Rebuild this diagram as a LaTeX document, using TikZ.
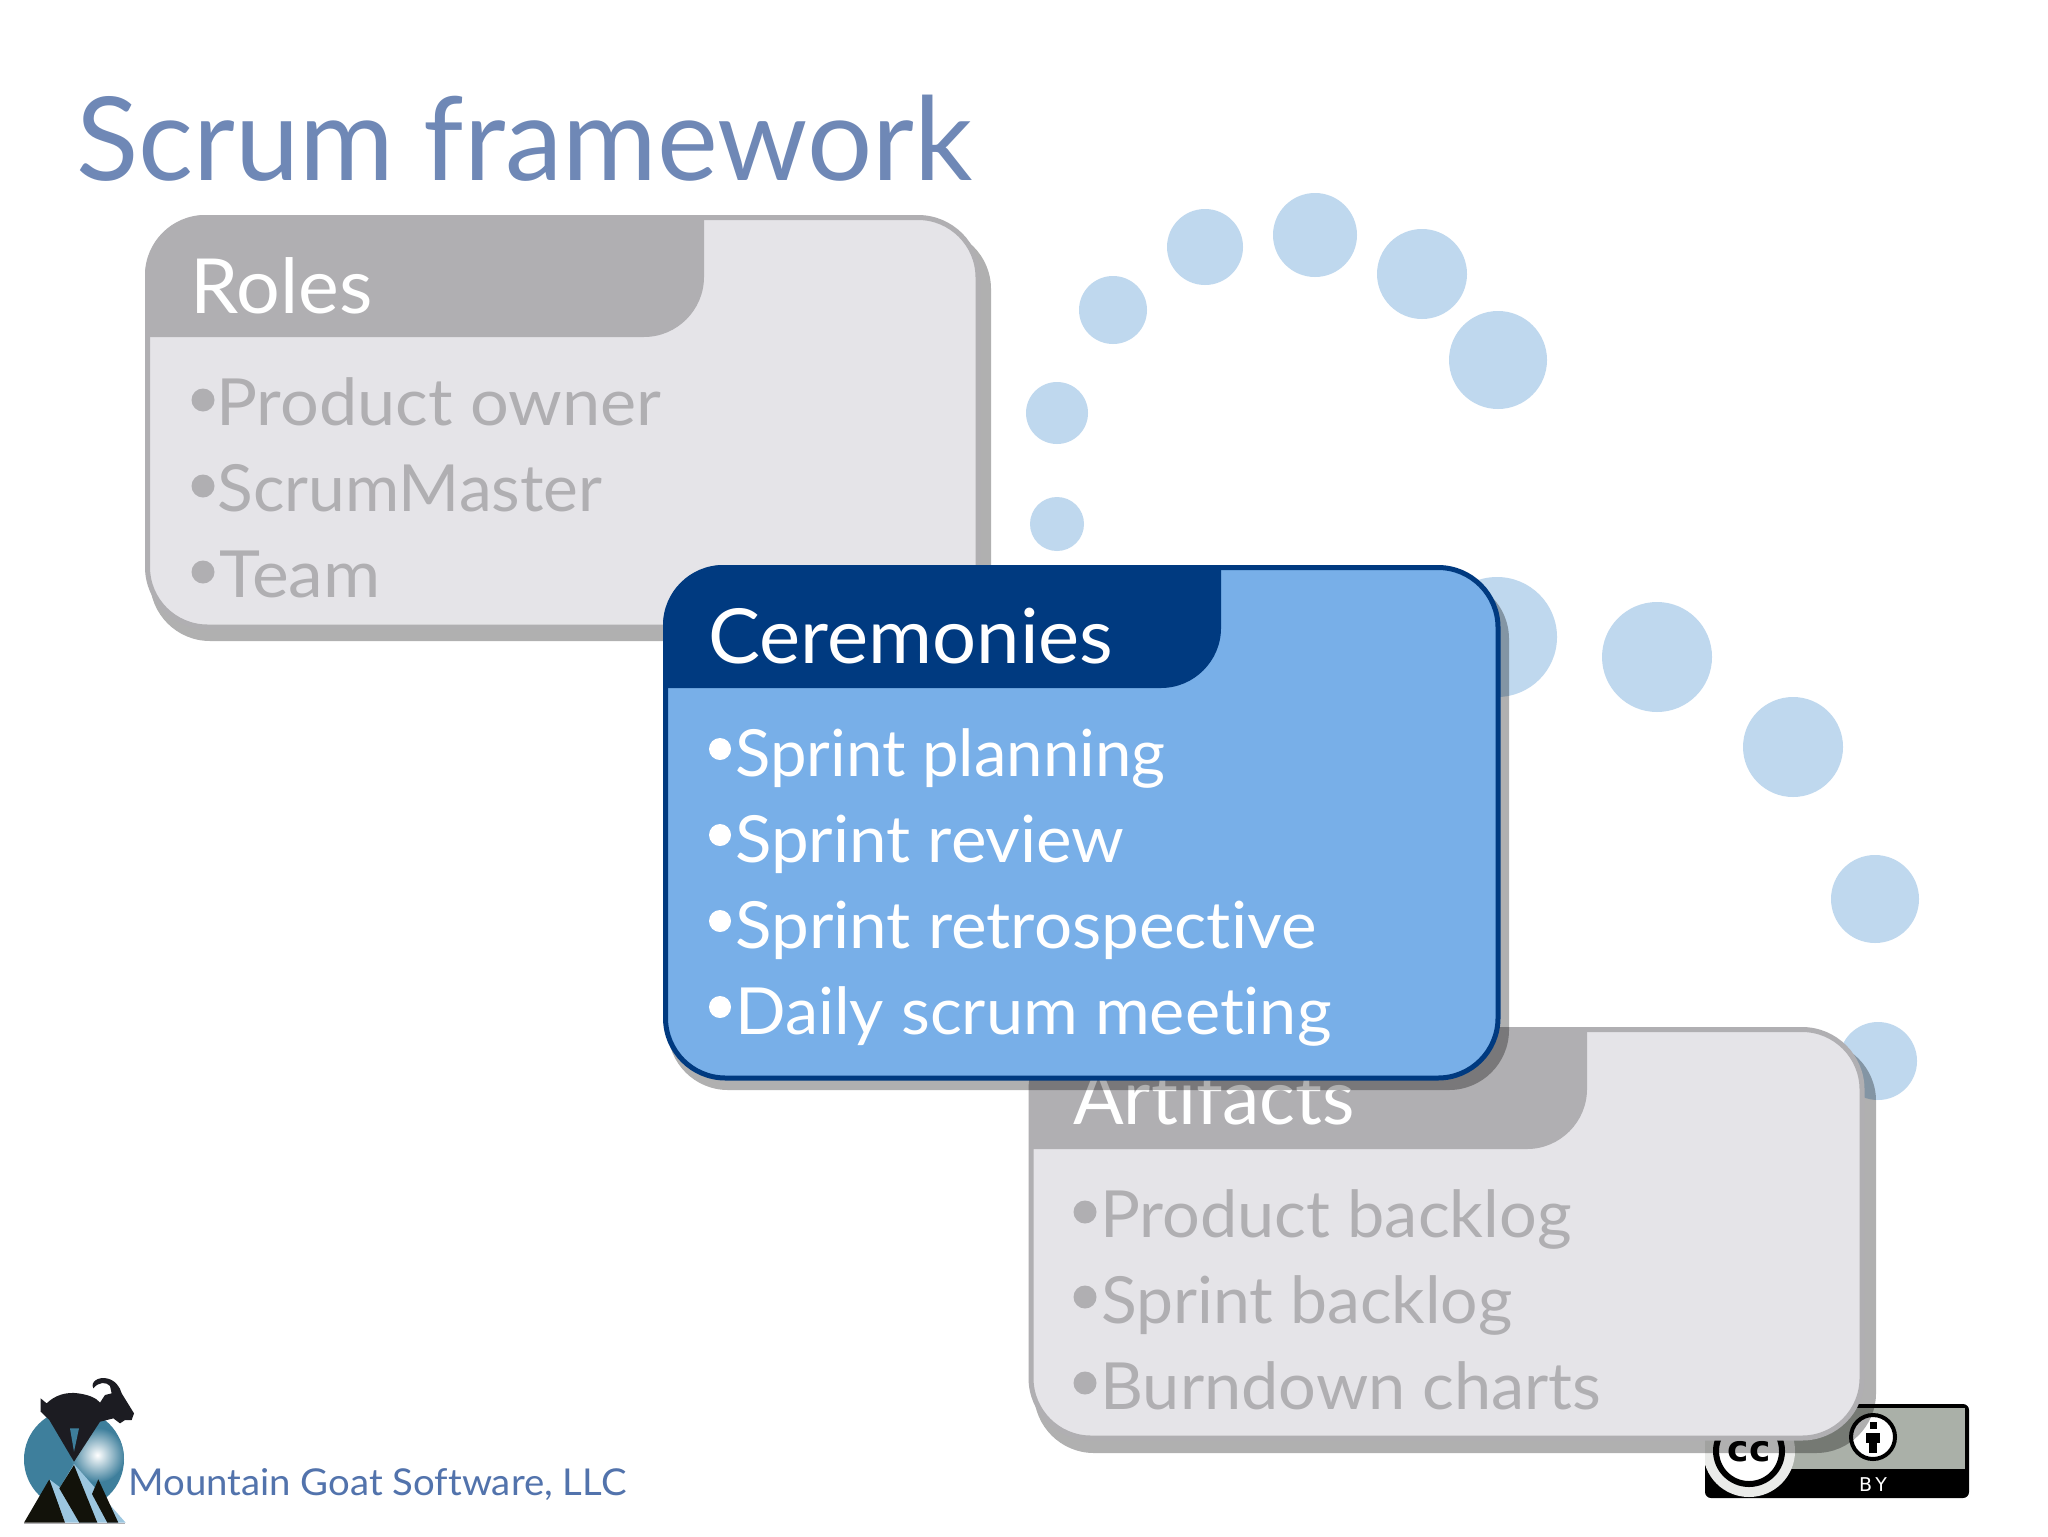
\documentclass[tikz,border=0pt]{standalone}
\usepackage{fontspec}
\usepackage{graphicx}
\setmainfont[Ligatures={NoCommon,NoRare},Contextuals=NoAlternate]{Lato}
\newfontfamily\badgefont{DejaVu Sans}
\definecolor{titleblue}{HTML}{6F88B6}
\definecolor{logoblue}{HTML}{5273AC}
\definecolor{dot}{HTML}{BFD8EE}
\definecolor{cardgrey}{HTML}{B0AFB2}
\definecolor{cardface}{HTML}{E5E4E8}
\definecolor{navy}{HTML}{003A80}
\definecolor{sky}{HTML}{78AFE8}
\definecolor{teal}{HTML}{3E7F9C}
\definecolor{goat}{HTML}{1C1C22}
\definecolor{rock}{HTML}{12120A}
\definecolor{ice}{HTML}{9CC6DF}
\definecolor{badgegrey}{HTML}{AAB0A8}
\newdimen\pxu \pxu=0.5pt
% text fitted to a measured width: x, baseline, width, size, colour, name, text
\newcommand\tx[7]{\node[anchor=base west,inner sep=0pt,text=#5] (#6) at (#1,#2) {\resizebox{#3\pxu}{\height}{\fontsize{#4pt}{#4pt}\selectfont #7}};}
% rounded card: left, top, right, bottom, style
\newcommand\card[5]{\draw[rounded corners=30pt,#5] (#1,#2) rectangle (#3,#4);}
% header tab: left, top, right, bottom, colour
\newcommand\tab[5]{\fill[#5] ({#1},{#4}) -- ({#1},{#2+60}) .. controls ({#1},{#2+27}) and ({#1+27},{#2}) .. ({#1+60},{#2}) -- ({#3},{#2}) -- ({#3},{#4-60}) .. controls ({#3},{#4-27}) and ({#3-27},{#4}) .. ({#3-60},{#4}) -- cycle;}
\tikzset{
  dotcircle/.style={fill=dot},
  shadowcard/.style={fill=black,fill opacity=.31,draw=none},
  greyface/.style={fill=cardface,draw=cardgrey,line width=2.5pt},
  blueface/.style={fill=sky,draw=navy,line width=2.5pt}
}
\begin{document}
\begin{tikzpicture}[x=0.5pt,y=-0.5pt]
\useasboundingbox (0,0) rectangle (2048,1536);
\fill[white] (0,0) rectangle (2048,1536);
% dots
\foreach \cx/\cy/\r in {1057/524/27,1057/413/31,1113/310/34,1205/247/38,1315/235/42,1422/274/45,1498/360/49,1497/637/60,1657/657/55,1793/747/50,1875/899/44,1878/1061/39}
  \fill[dotcircle] (\cx,\cy) circle[radius=\r];
% title
\tx{76}{180}{896}{58}{titleblue}{title}{Scrum framework}
% licence badge
\fill[black,rounded corners=3pt] (1705,1404) rectangle (1969,1498);
\fill[badgegrey] (1710,1408) rectangle (1965,1469);
\begin{scope}
\clip (1705,1404) rectangle (1969,1498);
\fill[white!75!badgegrey] (1749,1451) circle[radius=46];
\end{scope}
\draw[black,line width=3pt,fill=white] (1749,1451) circle[radius=33];
\node[inner sep=0pt,anchor=base,text=black] (cc) at (1749,1461) {\badgefont\bfseries\fontsize{18pt}{18pt}\selectfont cc};
\draw[black,line width=2pt,fill=white] (1873,1437) circle[radius=22];
\fill[black] (1869.5,1422) rectangle (1876.5,1429);
\fill[black] (1866,1433) rectangle (1880,1443);
\fill[black] (1869,1443) rectangle (1877,1453);
\node[inner sep=0pt,anchor=base,text=white] (by) at (1873,1491) {\badgefont\fontsize{9.5pt}{9.5pt}\selectfont B\,Y};
% logo
\begin{scope}[shift={(10,1370)},x=0.16667pt,y=-0.16667pt]
\fill[teal] (192,268) ellipse[x radius=150,y radius=150];
\begin{scope}
\clip (192,268) ellipse[x radius=150,y radius=150];
\shade[inner color=white,outer color=teal] (262,255) circle[radius=82];
\end{scope}
\fill[ice] (118,328) -- (150,352) -- (192,282) -- (347,458) -- (165,458) -- cycle;
\fill[rock] (42,458) -- (118,328) -- (165,458) -- cycle;
\fill[rock] (192,285) -- (148,355) -- (208,458) -- (262,458) -- cycle;
\fill[rock] (265,328) -- (246,372) -- (292,458) -- (325,458) -- cycle;
\draw[cardgrey,line width=.5pt] (42,459) -- (345,459);
\fill[goat] (92,85) -- (110,100) .. controls (135,75) and (170,65) .. (205,70) .. controls (240,75) and (260,85) .. (270,98) -- (285,75) -- (305,70) -- (300,48) .. controls (290,35) and (265,35) .. (250,55) .. controls (240,35) and (265,20) .. (290,25) .. controls (315,30) and (330,50) .. (335,70) -- (372,130) -- (365,150) -- (345,150) -- (330,160) -- (310,145) -- (270,155) -- (192,275) -- (118,150) -- (92,125) -- cycle;
\fill[teal] (180,175) -- (207,175) -- (192,245) -- cycle;
\end{scope}
\tx{128}{1495}{498}{18.5}{logoblue}{company}{Mountain Goat Software, LLC}
% Roles
\card{150}{229}{991}{641}{shadowcard}
\card{147.5}{217.5}{978}{627}{greyface}
\tab{145}{215}{704}{337}{cardgrey}
\tx{190}{313}{182}{38}{white}{rolesT}{Roles}
\foreach \by in {400,486,572}\fill[cardgrey] (203,\by) circle[radius=11.5];
\tx{216}{425}{445}{32.5}{cardgrey}{r1}{Product owner}
\tx{217}{511}{385}{32.5}{cardgrey}{r2}{ScrumMaster}
\tx{219}{597}{161}{32.5}{cardgrey}{r3}{Team}
% Artifacts
\card{1034}{1041}{1876}{1453}{shadowcard}
\card{1031}{1029.5}{1862}{1438}{greyface}
\tab{1029}{1027}{1587}{1149}{cardgrey}
\tx{1073}{1124}{281}{38}{white}{artT}{Artifacts}
\foreach \by in {1212,1297,1383}\fill[cardgrey] (1085,\by) circle[radius=11.5];
\tx{1100}{1237}{471}{32.5}{cardgrey}{a1}{Product backlog}
\tx{1101}{1323}{411}{32.5}{cardgrey}{a2}{Sprint backlog}
\tx{1100}{1409}{501}{32.5}{cardgrey}{a3}{Burndown charts}
% Ceremonies
\card{668}{579}{1509}{1090}{shadowcard}
\card{665.5}{567.5}{1498}{1078}{blueface}
\tab{663}{565}{1221}{688}{navy}
\tx{708}{663}{405}{38}{white}{cerT}{Ceremonies}
\foreach \by in {749,835,921,1007}\fill[white] (720,\by) circle[radius=11];
\tx{735}{776}{430}{32.5}{white}{c1}{Sprint planning}
\tx{735}{862}{389}{32.5}{white}{c2}{Sprint review}
\tx{735}{948}{581}{32.5}{white}{c3}{Sprint retrospective}
\tx{735}{1034}{596}{32.5}{white}{c4}{Daily scrum meeting}
\end{tikzpicture}
\end{document}
